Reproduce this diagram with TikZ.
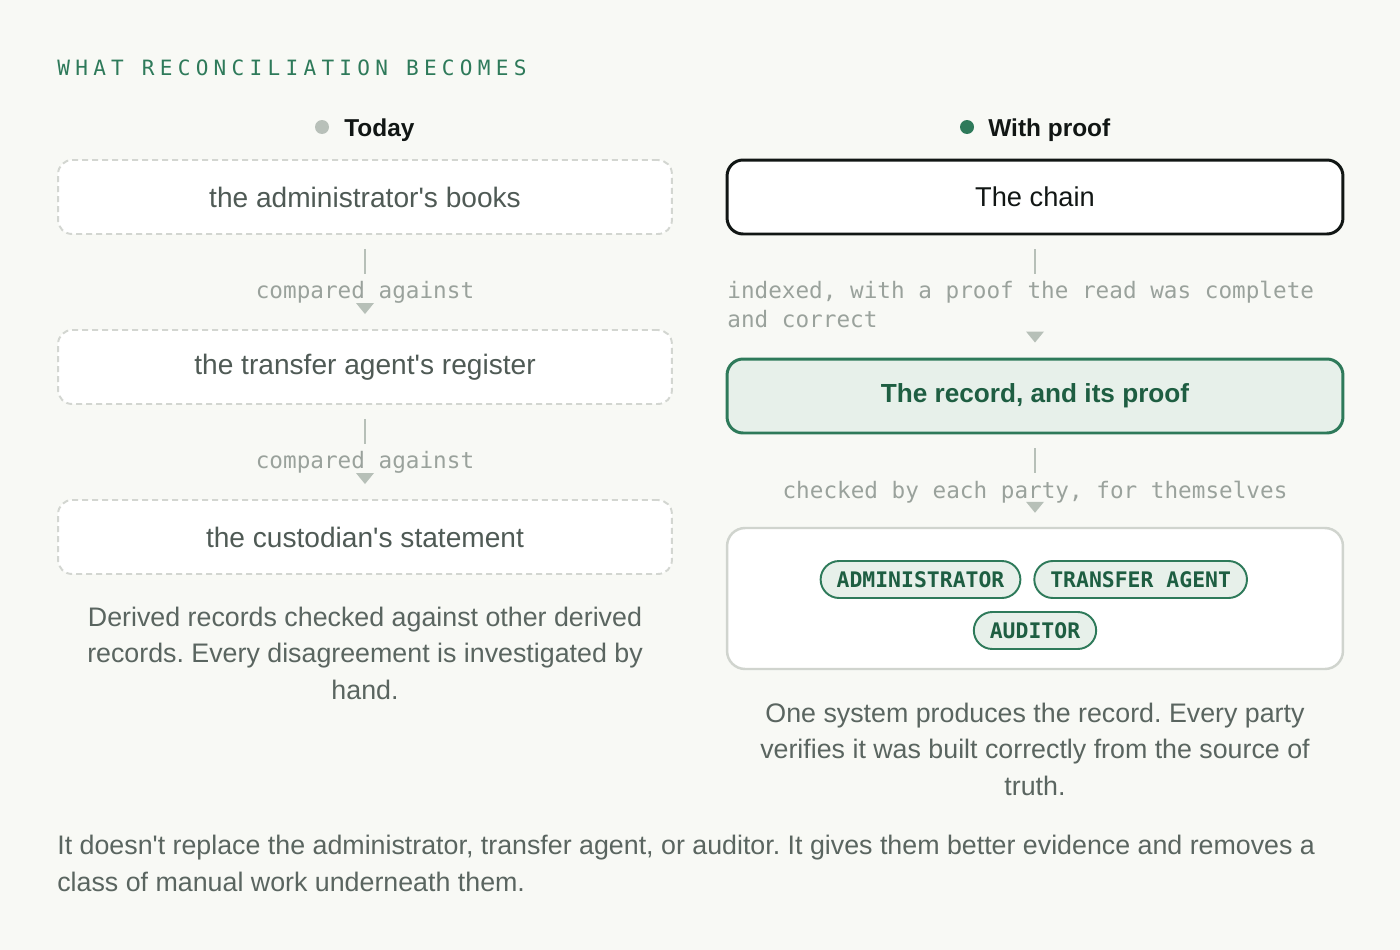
\documentclass[tikz,border=0pt]{standalone}
\usepackage{fontspec}
\setmainfont{Liberation Sans}
\setmonofont{DejaVu Sans Mono}
\usetikzlibrary{positioning}
\frenchspacing

\definecolor{bg}{HTML}{F8F9F5}
\definecolor{ink}{HTML}{111614}
\definecolor{green}{HTML}{2E7A5A}
\definecolor{darkgreen}{HTML}{1E5E42}
\definecolor{palegreen}{HTML}{E7F0EA}
\definecolor{dotgray}{HTML}{B8C0B9}
\definecolor{dashgray}{HTML}{D3D6D1}
\definecolor{partygray}{HTML}{D0D4CE}
\definecolor{boxtext}{HTML}{4F5A55}
\definecolor{captext}{HTML}{5A6560}
\definecolor{notegray}{HTML}{9AA29C}
\definecolor{linkgray}{HTML}{B7C0B8}

\begin{document}
\begin{tikzpicture}[
    x=0.02cm, y=-0.02cm,
    today/.style={rectangle, rounded corners=0.28cm, draw=dashgray, line width=1.1pt, dash pattern=on 0.12cm off 0.08cm, fill=white, minimum width=12.28cm, minimum height=1.48cm, text=boxtext, font=\fontsize{16}{18}\selectfont},
    chain/.style={rectangle, rounded corners=0.32cm, draw=ink, line width=1.7pt, fill=white, minimum width=12.32cm, minimum height=1.48cm, text=ink, font=\fontsize{15.5}{18}\selectfont},
    record/.style={rectangle, rounded corners=0.32cm, draw=green, line width=1.7pt, fill=palegreen, minimum width=12.32cm, minimum height=1.48cm, text=darkgreen, font=\bfseries\fontsize{14.9}{18}\selectfont},
    parties/.style={rectangle, rounded corners=0.36cm, draw=partygray, line width=1.4pt, fill=white, minimum width=12.32cm, minimum height=2.82cm},
    pill/.style={rectangle, rounded corners=0.37cm, draw=green, line width=1.1pt, fill=palegreen, minimum height=0.74cm, inner xsep=0.32cm, inner ysep=0pt, text=darkgreen, font=\ttfamily\bfseries\fontsize{12.2}{14}\selectfont},
    head/.style={anchor=base west, inner sep=0pt, text=ink, font=\bfseries\fontsize{13.9}{16}\selectfont},
    note/.style={inner sep=0pt, text=notegray, font=\ttfamily\fontsize{12.9}{16.4}\selectfont},
    caption/.style={inner sep=0pt, text=captext, font=\fontsize{15.25}{20.7}\selectfont},
    link/.style={draw=linkgray, line width=1.2pt},
    tip/.style={fill=linkgray}
  ]
    % Page
    \fill[bg] (0,0) rectangle (1400,950);

    % Title
    \node[anchor=base west, inner sep=0pt, text=green, font=\ttfamily\fontsize{12}{14}\selectfont\addfontfeature{LetterSpace=25}] (title) at (57,75) {WHAT RECONCILIATION BECOMES};

    % Headers
    \fill[dotgray] (322,127) circle (0.14cm);
    \node[head] (today) at (344,136) {Today};
    \fill[green] (967,127) circle (0.14cm);
    \node[head] (proof) at (988,136) {With proof};

    % Today column
    \node[today] (books) at (365,197) {the administrator\textquotesingle s books};
    \node[today] (register) at (365,367) {the transfer agent\textquotesingle s register};
    \node[today] (custodian) at (365,537) {the custodian\textquotesingle s statement};

    \draw[link] (books.south) ++(0,14) -- ++(0,25);
    \node[note, anchor=base] (cmp1) at ([yshift=-1.28cm]books.south) {compared against};
    \fill[tip] (register.north) ++(-9,-26) -- ++(18,0) -- ++(-9,11) -- cycle;

    \draw[link] (register.south) ++(0,14) -- ++(0,25);
    \node[note, anchor=base] (cmp2) at ([yshift=-1.28cm]register.south) {compared against};
    \fill[tip] (custodian.north) ++(-9,-26) -- ++(18,0) -- ++(-9,11) -- cycle;

    \node[caption, align=center, anchor=base] (lcap) at (365,699) {Derived records checked against other derived\\records. Every disagreement is investigated by\\hand.};

    % With proof column
    \node[chain] (chain) at (1035,197) {The chain};
    \node[record] (record) at (1035,396) {The record, and its proof};
    \node[parties] (parties) at (1035,598.5) {};

    \draw[link] (chain.south) ++(0,14) -- ++(0,25);
    \node[note, align=left, anchor=base west] (indexed) at (727,327) {indexed, with a proof the read was complete\\and correct};
    \fill[tip] (record.north) ++(-9,-26) -- ++(18,0) -- ++(-9,11) -- cycle;

    \draw[link] (record.south) ++(0,14) -- ++(0,25);
    \node[note, anchor=base] (checked) at ([yshift=-1.28cm]record.south) {checked by each party, for themselves};
    \fill[tip] (parties.north) ++(-9,-25) -- ++(18,0) -- ++(-9,11) -- cycle;

    % Parties
    \node[pill] (admin) at (920.5,579.5) {ADMINISTRATOR};
    \node[pill, right=0.24cm of admin] (agent) {TRANSFER AGENT};
    \node[pill] (auditor) at (1035,630.5) {AUDITOR};

    \node[caption, align=center, anchor=base] (rcap) at (1035,795) {One system produces the record. Every party\\verifies it was built correctly from the source of\\truth.};

    % Footer
    \node[caption, align=left, anchor=base west] (footer) at (57,891) {It doesn\textquotesingle t replace the administrator, transfer agent, or auditor. It gives them better evidence and removes a\\class of manual work underneath them.};
  \end{tikzpicture}
\end{document}
